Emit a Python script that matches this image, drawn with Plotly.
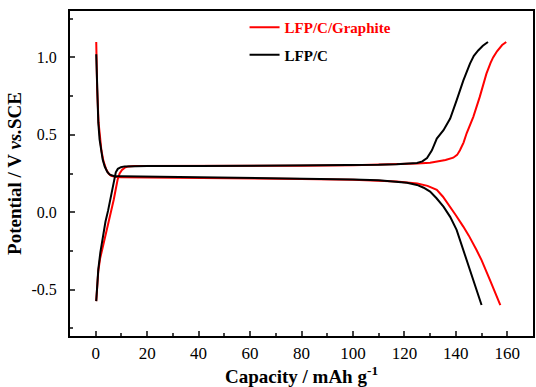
import plotly.graph_objects as go

# LFP/C/Graphite (red)
red_charge_x = [0.2, 0.5, 1.0, 1.7, 2.7, 3.8, 5.0, 6.0, 7.0, 7.8, 8.5, 9.3, 10.2, 11.3, 12.7, 15, 20, 40, 60, 80, 100,
                115, 125, 130, 132.6, 136, 139, 140.5, 141.6, 143, 144.2, 146.8, 149.3, 151.9, 153.5, 154.5, 156, 158, 159.6]
red_charge_y = [-0.575, -0.47, -0.38, -0.30, -0.23, -0.15, -0.06, 0.0, 0.08, 0.15, 0.21, 0.25, 0.273, 0.288, 0.296, 0.298, 0.298, 0.298, 0.299, 0.300, 0.303,
                0.308, 0.314, 0.320, 0.326, 0.337, 0.352, 0.37, 0.40, 0.45, 0.51, 0.616, 0.745, 0.895, 0.965, 1.0, 1.04, 1.08, 1.10]
red_dis_x = [0.2, 0.25, 0.55, 1.1, 1.6, 2.2, 3.0, 4.0, 5.0, 6.0, 8, 10, 20, 40, 60, 80, 100, 110, 117, 122, 125, 129,
             132.6, 135, 137.8, 140, 142.9, 145, 148, 150, 153.2, 155, 157.3]
red_dis_y = [1.10, 1.02, 0.80, 0.58, 0.47, 0.40, 0.33, 0.28, 0.25, 0.235, 0.228, 0.226, 0.224, 0.222, 0.218, 0.214, 0.210, 0.205, 0.198, 0.190, 0.185, 0.170,
             0.144, 0.10, 0.036, -0.02, -0.093, -0.15, -0.243, -0.31, -0.436, -0.51, -0.60]

# LFP/C (black)
blk_charge_x = [0.2, 0.5, 1.0, 1.8, 2.8, 3.8, 4.8, 5.7, 6.5, 7.2, 7.8, 8.6, 9.8, 11.2, 14, 20, 40, 60, 80, 100, 110, 117,
                121, 124.9, 127, 128.8, 130.7, 132.6, 135.2, 137.8, 140.3, 142.9, 145.5, 147, 148.7, 150.5, 152.5]
blk_charge_y = [-0.575, -0.46, -0.37, -0.26, -0.15, -0.06, 0.01, 0.09, 0.16, 0.22, 0.258, 0.28, 0.291, 0.296, 0.297, 0.298, 0.298, 0.299, 0.300, 0.303, 0.306, 0.310,
                0.313, 0.318, 0.328, 0.35, 0.40, 0.476, 0.53, 0.605, 0.723, 0.85, 0.96, 1.01, 1.045, 1.075, 1.10]
blk_dis_x = [0.2, 0.5, 1.0, 1.5, 2.0, 2.7, 3.5, 4.5, 5.5, 7.3, 10, 20, 40, 60, 80, 100, 110, 117, 121, 124.9, 127.5,
             130, 132.5, 135.2, 137.8, 140.3, 142.2, 144.2, 146, 147.4, 150]
blk_dis_y = [1.02, 0.80, 0.58, 0.47, 0.40, 0.34, 0.295, 0.26, 0.243, 0.232, 0.232, 0.230, 0.228, 0.224, 0.218, 0.212, 0.207, 0.198, 0.190, 0.176, 0.158,
             0.133, 0.09, 0.036, -0.03, -0.114, -0.21, -0.307, -0.40, -0.48, -0.60]

series_names = ["<span style='color:#ff0000'>LFP/C/Graphite</span>", "LFP/C"]
series_colors = ["#ff0000", "#000000"]

x_ticks = [0, 20, 40, 60, 80, 100, 120, 140, 160]
y_ticks = [-0.5, 0.0, 0.5, 1.0]
y_tick_text = ["-0.5", "0.0", "0.5", "1.0"]

fig = go.Figure()
groups = [(red_charge_x, red_charge_y, red_dis_x, red_dis_y),
          (blk_charge_x, blk_charge_y, blk_dis_x, blk_dis_y)]
for i, (cx, cy, dx, dy) in enumerate(groups):
    fig.add_trace(go.Scatter(x=cx, y=cy, mode="lines", name=series_names[i], legendgroup=str(i),
                             line=dict(color=series_colors[i], width=2)))
    fig.add_trace(go.Scatter(x=dx, y=dy, mode="lines", name=series_names[i], legendgroup=str(i),
                             showlegend=False, line=dict(color=series_colors[i], width=2)))

font_family = "Liberation Serif"
fig.update_layout(
    width=536, height=387,
    margin=dict(l=70, r=1, t=11, b=51),
    plot_bgcolor="white", paper_bgcolor="white",
    font=dict(family=font_family, size=16, color="black"),
    showlegend=True,
    legend=dict(x=0.377, y=1.0, xanchor="left", yanchor="top",
                font=dict(family=font_family, size=15, color="black", weight="bold"),
                bgcolor="rgba(0,0,0,0)", tracegroupgap=5),
    xaxis=dict(range=[-10, 170], tickvals=x_ticks, ticks="inside", ticklen=5, tickwidth=2,
               showline=True, linewidth=2, linecolor="black", mirror=True, showgrid=False, zeroline=False,
               minor=dict(dtick=10, tick0=0, ticks="inside", ticklen=3, tickwidth=2),
               tickfont=dict(size=17), ticklabelstandoff=1,
               title=dict(text="<b>Capacity / mAh g<sup>-1</sup></b>", font=dict(size=19), standoff=8)),
    yaxis=dict(range=[-0.8, 1.3], tickvals=y_ticks, ticktext=y_tick_text, ticks="inside", ticklen=5, tickwidth=2,
               showline=True, linewidth=2, linecolor="black", mirror=True, showgrid=False, zeroline=False,
               minor=dict(dtick=0.25, tick0=0, ticks="inside", ticklen=3, tickwidth=2),
               tickfont=dict(size=16), ticklabelstandoff=8,
               title=dict(text="<b>Potential / V <i>vs.</i>SCE</b>", font=dict(size=19), standoff=5)),
)

fig.write_html("out.html")
